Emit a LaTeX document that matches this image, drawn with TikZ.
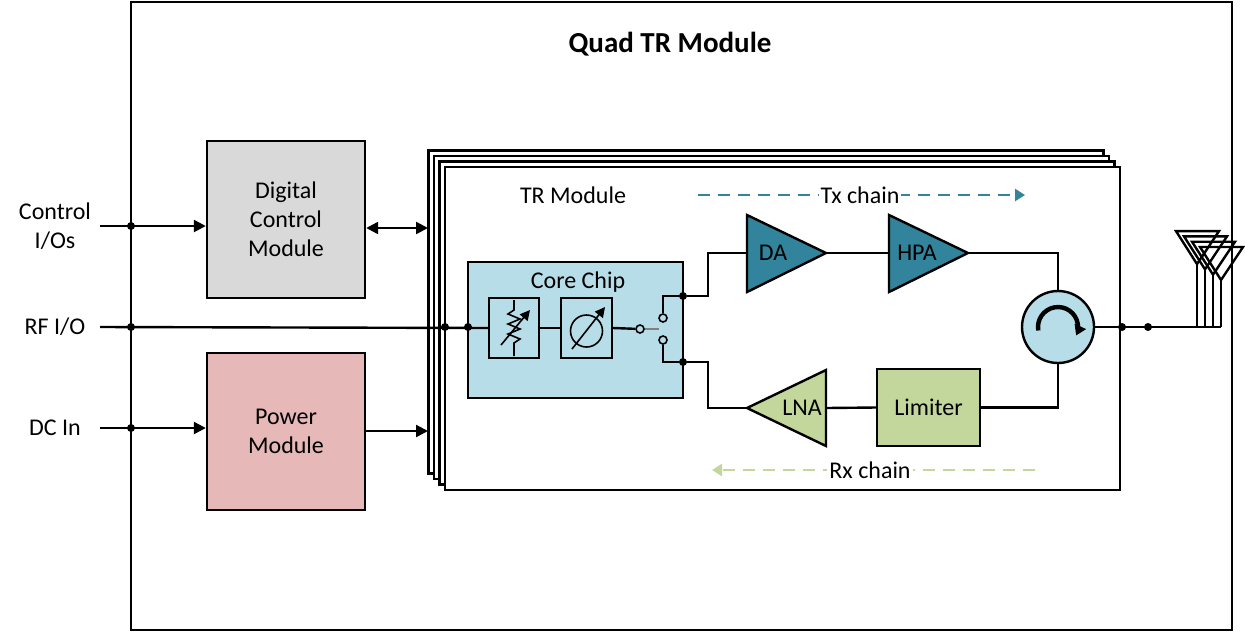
\documentclass[tikz,border=0pt]{standalone}
\usepackage{fontspec}
\setmainfont{Carlito}
\usetikzlibrary{arrows.meta}
\definecolor{ctrlgray}{HTML}{D9D9D9}
\definecolor{pwrpink}{HTML}{E6B8B7}
\definecolor{chipblue}{HTML}{B7DDE8}
\definecolor{txteal}{HTML}{31849B}
\definecolor{rxgreen}{HTML}{C3D69B}
\tikzset{
  blk/.style={rectangle,draw=black,very thick,align=center,inner sep=0pt,font=\fontsize{12}{14.5}\selectfont},
  ampl/.style={draw=black,very thick},
  wire/.style={draw=black,very thick},
  arr/.style={wire,-{Triangle[length=6pt,width=6pt]}},
  dot/.style={circle,fill=black,inner sep=0pt,minimum size=4pt},
  lbl/.style={font=\fontsize{12}{14.5}\selectfont,align=center}
}
\begin{document}
\begin{tikzpicture}[x=0.5pt,y=-0.5pt]
        \useasboundingbox (0,0) rectangle (1245,633);
        \draw[very thick] (131,2) rectangle (1232,630);
        \node[font=\bfseries\fontsize{14.5}{17}\selectfont] (title) at (670,44) {Quad TR Module};
        % stacked TR modules
        \foreach \i in {3,2,1,0}
            \draw[very thick,fill=white] (445-5.5*\i,167-5.5*\i) rectangle ++(675,323);
        \coordinate (trl) at (428,228);
        \coordinate (trp) at (428,431);
        \node[lbl] (trlabel) at (573,195) {TR Module};
        \begin{scope}[every node/.style={blk}]
            \node (dcm) [fill=ctrlgray,minimum width=79pt,minimum height=78.5pt] at (286,219.5) {Digital\\Control\\Module};
            \node (pm) [fill=pwrpink,minimum width=79pt,minimum height=78.5pt] at (286,431.5) {Power\\Module};
            \node (core) [fill=chipblue,minimum width=107.5pt,minimum height=68pt] at (575.5,330) {};
            \node (att) [minimum width=25pt,minimum height=30pt] at (514,328) {};
            \node (ps) [minimum width=25.5pt,minimum height=30pt] at (586.5,328) {};
            \node (lim) [fill=rxgreen,minimum width=51.5pt,minimum height=38.5pt] at (928.5,407.5) {Limiter};
        \end{scope}
        \node[lbl] (corelabel) at (578,282) {Core Chip};
        % amplifiers
        \coordinate (da-in) at (747,253); \coordinate (da-out) at (826,253);
        \coordinate (hpa-in) at (889,253); \coordinate (hpa-out) at (968,253);
        \coordinate (lna-in) at (826,408); \coordinate (lna-out) at (747,408);
        \draw[ampl,fill=txteal] (747,215) -- (da-out) -- (747,292) -- cycle;
        \draw[ampl,fill=txteal] (889,215) -- (hpa-out) -- (889,292) -- cycle;
        \draw[ampl,fill=rxgreen] (826,370) -- (lna-out) -- (826,446) -- cycle;
        \node[lbl] (dalabel) at (773,253) {DA};
        \node[lbl] (hpalabel) at (917,253) {HPA};
        \node[lbl] (lnalabel) at (802,408) {LNA};
        \node (circ) [circle,draw=black,very thick,fill=chipblue,minimum size=36pt,inner sep=0pt] at (1058,327) {};
        \draw[line width=2.2pt,-{Triangle[length=5pt,width=6pt]}] (circ) ++(-19.7,3.5) arc[start angle=170,end angle=385,radius=20];
        % labels on the left
        \node[lbl] (ctrlio) at (55,226) {Control\\I/Os};
        \node[lbl] (rfio) at (55,327) {RF I/O};
        \node[lbl] (dcin) at (55,428) {DC In};
        \coordinate (c0) at (100,226);
        \coordinate (r0) at (100,327);
        \coordinate (d0) at (100,428);
        \node[dot] (cd) at (131,226) {};
        \node[dot] (rd) at (131,327) {};
        \node[dot] (dd) at (131,428) {};
        \node[dot] (rd2) at (445,327) {};
        \node[dot] (rd3) at (468,327) {};
        \draw[arr] (c0) -- (dcm.west |- c0);
        \draw[arr] (d0) -- (pm.west |- d0);
        \draw[wire] (r0) -- (att.west);
        \draw[wire,{Triangle[length=6pt,width=6pt]}-{Triangle[length=6pt,width=6pt]}] (dcm.east |- trl) -- (trl);
        \draw[arr] (pm.east |- trp) -- (trp);
        % attenuator symbol
        \draw[thick] (514,300) -- (514,310) -- (508,314) -- (520,319) -- (508,324) -- (520,329) -- (508,334) -- (520,339) -- (514,343) -- (514,356);
        \draw[thick,-{Triangle[length=5pt,width=5pt]}] (501,345) -- (530,310);
        % phase shifter symbol
        \draw[thick] (586.5,331) circle (8pt);
        \draw[thick,-{Triangle[length=5pt,width=5pt]}] (572,349) -- (605,307);
        \draw[wire] (att.east) -- (ps.west);
        % switch
        \node (sw) [circle,draw=black,thick,inner sep=0pt,minimum size=4pt] at (640,329) {};
        \node (swa) [circle,draw=black,thick,inner sep=0pt,minimum size=4pt] at (663,318) {};
        \node (swb) [circle,draw=black,thick,inner sep=0pt,minimum size=4pt] at (663,340) {};
        \draw[wire] (ps.east) -- (sw);
        \draw[gray,thick] (sw) -- (659,329);
        \node[dot] (ta) at (683,296) {};
        \node[dot] (tb) at (683,362) {};
        \draw[wire] (swa) -- (663,296) -- (ta);
        \draw[wire] (swb) -- (663,362) -- (tb);
        \draw[wire] (ta) -- (708,296) |- (da-in);
        \draw[wire] (tb) -- (708,362) |- (lna-out);
        \draw[wire] (da-out) -- (hpa-in);
        \draw[wire] (hpa-out) -| (circ.north);
        \draw[wire] (circ.south) |- (lim.east);
        \draw[wire] (lim.west) -- (lna-in);
        % chains
        \draw[txteal,very thick,dash pattern=on 6pt off 4pt,-{Triangle[length=5pt,width=6pt]}] (698,195) -- (1025,195);
        \node[lbl,fill=white,inner sep=1pt] (tx) at (860,195) {Tx chain};
        \draw[rxgreen,very thick,dash pattern=on 6pt off 4pt,-{Triangle[length=5pt,width=6pt]}] (1035,470) -- (712,470);
        \node[lbl,fill=white,inner sep=1pt] (rx) at (870,470) {Rx chain};
        % antenna
        \node[dot] (od1) at (1122,327) {};
        \node[dot] (od2) at (1148,327) {};
        \coordinate (feed) at (1221,327);
        \draw[wire] (circ.east) -- (feed);
        \foreach \i in {3,2,1,0} {
            \coordinate (ap\i) at (1221-8*\i,280-5.3*\i);
            \draw[very thick] (1200-8*\i,247-5.3*\i) -- (1243-8*\i,247-5.3*\i) -- (ap\i) -- cycle;
            \draw[wire] (ap\i) -- (1221-8*\i,327);
        }
\end{tikzpicture}
\end{document}
